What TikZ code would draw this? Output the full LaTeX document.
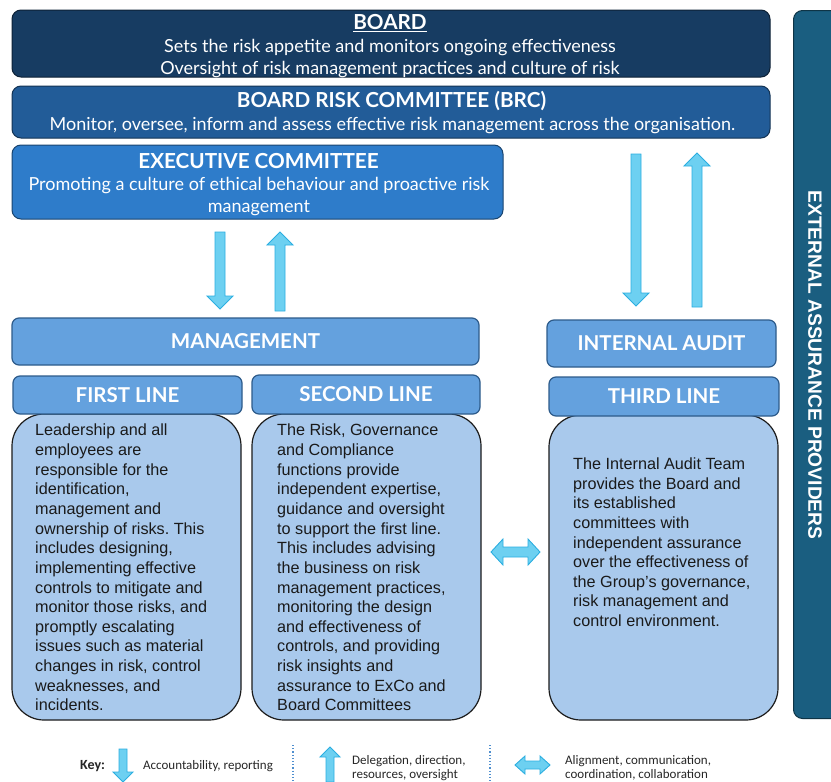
\documentclass[tikz,border=0pt]{standalone}
\usepackage{fontspec}
\setmainfont{Lato}
\newfontfamily\bodyfont{Liberation Sans}
\newfontfamily\keyfont{Carlito}
\newfontfamily\sidefont{Liberation Sans Bold}
\usetikzlibrary{calc}
\frenchspacing

\definecolor{boardblue}{HTML}{173C62}
\definecolor{brcblue}{HTML}{225C98}
\definecolor{excoblue}{HTML}{2E7CCA}
\definecolor{headfill}{HTML}{64A1DE}
\definecolor{headline}{HTML}{2D5B8A}
\definecolor{bodyfill}{HTML}{A9C9EC}
\definecolor{bodyline}{HTML}{1C1C1C}
\definecolor{bodytext}{HTML}{1A1A1A}
\definecolor{extblue}{HTML}{1A5E80}
\definecolor{arrowfill}{HTML}{6DD0F1}
\definecolor{arrowline}{HTML}{2BAEE0}
\definecolor{dotblue}{HTML}{4F8FCF}

\begin{document}
\begin{tikzpicture}[x=1pt,y=-1pt,
            box_style/.style={draw=#1!55!black, fill=#1, line width=1pt, rounded corners=9pt, inner sep=0pt},
            title_style/.style={anchor=base, inner sep=0pt, text=white, font=\fontsize{20.7}{22}\selectfont\bfseries},
            line_style/.style={anchor=base, inner sep=0pt, text=white, font=\fontsize{18}{20}\selectfont},
            head_style/.style={draw=headline, fill=headfill, line width=1.2pt, rounded corners=7pt, text=white, inner sep=0pt, font=\fontsize{20.5}{22}\selectfont\bfseries},
            body_style/.style={draw=bodyline, fill=bodyfill, line width=1.2pt, rounded corners=32pt, inner sep=0pt},
            text_style/.style={anchor=north west, align=left, inner sep=0pt, text=bodytext, font=\bodyfont\fontsize{16.2}{19.64}\selectfont},
            key_style/.style={anchor=west, align=left, inner sep=0pt, text=black!85, font=\keyfont\fontsize{13}{14}\selectfont},
            arr_size/.code n args={3}{\def\arrshaft{#1}\def\arrhead{#2}\def\arrlen{#3}},
            blk_arrow/.style={draw=arrowline, fill=arrowfill, line width=0.9pt, arr_size={5pt}{13pt}{13pt},
              to path={let \p1=(\tikztostart), \p2=(\tikztotarget), \n1={atan2(\y2-\y1,\x2-\x1)}, \n2={veclen(\x2-\x1,\y2-\y1)} in
                {[shift={(\p1)}, rotate=\n1] (0pt,-\arrshaft) -- (\n2*1pt-\arrlen,-\arrshaft) -- (\n2*1pt-\arrlen,-\arrhead)
                 -- (\n2*1pt,0pt) -- (\n2*1pt-\arrlen,\arrhead) -- (\n2*1pt-\arrlen,\arrshaft) -- (0pt,\arrshaft) -- cycle}}},
            dbl_arrow/.style={draw=arrowline, fill=arrowfill, line width=0.9pt, arr_size={5pt}{13pt}{12pt},
              to path={let \p1=(\tikztostart), \p2=(\tikztotarget), \n1={atan2(\y2-\y1,\x2-\x1)}, \n2={veclen(\x2-\x1,\y2-\y1)} in
                {[shift={(\p1)}, rotate=\n1] (0pt,0pt) -- (\arrlen,-\arrhead) -- (\arrlen,-\arrshaft) -- (\n2*1pt-\arrlen,-\arrshaft)
                 -- (\n2*1pt-\arrlen,-\arrhead) -- (\n2*1pt,0pt) -- (\n2*1pt-\arrlen,\arrhead) -- (\n2*1pt-\arrlen,\arrshaft)
                 -- (\arrlen,\arrshaft) -- (\arrlen,\arrhead) -- cycle}}},
            sep_style/.style={draw=dotblue, line width=1.2pt, dotted}]
            \useasboundingbox (0,0) rectangle (831,782);
            \clip (0,0) rectangle (831,782);

            % governance boxes on top
            \node[box_style=boardblue, minimum width=758pt, minimum height=67pt] (board) at (391,43.5) {};
            \node[title_style] (board_t) at (390,29.5) {\underline{BOARD}};
            \node[line_style] (board_l1) at (390,52) {Sets the risk appetite and monitors ongoing effectiveness};
            \node[line_style] (board_l2) at (390,74) {Oversight of risk management practices and culture of risk};

            \node[box_style=brcblue, minimum width=758pt, minimum height=52pt] (brc) at (391,112) {};
            \node[title_style] (brc_t) at (391.5,107.5) {BOARD RISK COMMITTEE (BRC)};
            \node[line_style] (brc_l1) at (392.5,130) {Monitor, oversee, inform and assess effective risk management across the organisation.};

            \node[box_style=excoblue, minimum width=491pt, minimum height=74pt] (exco) at (257.5,182) {};
            \node[title_style] (exco_t) at (258.5,168.3) {EXECUTIVE COMMITTEE};
            \node[line_style] (exco_l1) at (259,190) {Promoting a culture of ethical behaviour and proactive risk};
            \node[line_style] (exco_l2) at (259,212) {management};

            % external assurance column
            \node[box_style=extblue, minimum width=60pt, minimum height=708pt, anchor=north west] (ext) at (793,10) {};
            \node[rotate=-90, text=white, inner sep=0pt, font=\sidefont\fontsize{19.2}{20}\selectfont] (ext_t) at (815,365)
                {EXTERNAL ASSURANCE PROVIDERS};

            % management and internal audit
            \node[head_style, minimum width=467pt, minimum height=47pt] (mgmt) at (245.5,341.5) {MANAGEMENT};
            \node[head_style, minimum width=229pt, minimum height=47pt] (ia) at (661.5,343.5) {INTERNAL AUDIT};

            % the three lines
            \node[body_style, minimum width=229pt, minimum height=306pt] (b1) at (126.5,567) {};
            \node[body_style, minimum width=229pt, minimum height=306pt] (b2) at (366.5,567) {};
            \node[body_style, minimum width=229pt, minimum height=305pt] (b3) at (663.5,567.5) {};
            \node[head_style, minimum width=229pt, minimum height=38pt] (l1) at (127.5,395) {FIRST LINE};
            \node[head_style, minimum width=228pt, minimum height=39pt] (l2) at (366,394.5) {SECOND LINE};
            \node[head_style, minimum width=230pt, minimum height=39pt] (l3) at (664,396.5) {THIRD LINE};

            \node[text_style] (t1) at (35,424) {Leadership and all\\employees are\\responsible for the\\identification,\\management and\\ownership of risks. This\\includes designing,\\implementing effective\\controls to mitigate and\\monitor those risks, and\\promptly escalating\\issues such as material\\changes in risk, control\\weaknesses, and\\incidents.};
            \node[text_style] (t2) at (277,424) {The Risk, Governance\\and Compliance\\functions provide\\independent expertise,\\guidance and oversight\\to support the first line.\\This includes advising\\the business on risk\\management practices,\\monitoring the design\\and effectiveness of\\controls, and providing\\risk insights and\\assurance to ExCo and\\Board Committees};
            \node[text_style] (t3) at (573,457.5) {The Internal Audit Team\\provides the Board and\\its established\\committees with\\independent assurance\\over the effectiveness of\\the Group’s governance,\\risk management and\\control environment.};

            % arrows between the levels
            \coordinate (a1) at (220,232);
            \coordinate (a2) at (220,309);
            \coordinate (a3) at (280,311);
            \coordinate (a4) at (280,232);
            \coordinate (a5) at (636,154);
            \coordinate (a6) at (636,306);
            \coordinate (a7) at (697,307);
            \coordinate (a8) at (697,153);
            \coordinate (a9) at (491,552);
            \coordinate (a10) at (540,552);
            \draw[blk_arrow] (a1) to (a2);
            \draw[blk_arrow] (a3) to (a4);
            \draw[blk_arrow] (a5) to (a6);
            \draw[blk_arrow] (a7) to (a8);
            \draw[dbl_arrow] (a9) to (a10);

            % key
            \node[key_style, font=\keyfont\fontsize{14}{14}\selectfont\bfseries] (k0) at (80,766) {Key:};
            \coordinate (k1a) at (123,749);
            \coordinate (k1b) at (123,782);
            \draw[blk_arrow, arr_size={4pt}{10pt}{10pt}] (k1a) to (k1b);
            \node[key_style] (k1) at (143,766) {Accountability, reporting};
            \coordinate (s1a) at (293,745);
            \coordinate (s1b) at (293,782);
            \draw[sep_style] (s1a) -- (s1b);
            \coordinate (k2a) at (330,782);
            \coordinate (k2b) at (330,747);
            \draw[blk_arrow, arr_size={4pt}{10pt}{10pt}] (k2a) to (k2b);
            \node[key_style] (k2) at (352,768) {Delegation, direction,\\resources, oversight};
            \coordinate (s2a) at (490,745);
            \coordinate (s2b) at (490,782);
            \draw[sep_style] (s2a) -- (s2b);
            \coordinate (k3a) at (515,765);
            \coordinate (k3b) at (550,765);
            \draw[dbl_arrow, arr_size={4pt}{9pt}{10pt}] (k3a) to (k3b);
            \node[key_style] (k3) at (565,768) {Alignment, communication,\\coordination, collaboration};
        \end{tikzpicture}
\end{document}
